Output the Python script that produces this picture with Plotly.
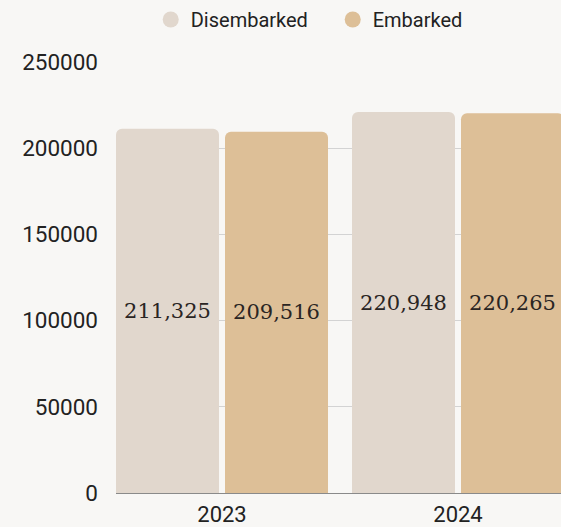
import plotly.graph_objects as go

years = ["2023", "2024"]
disembarked = [211325, 220948]
embarked = [209516, 220265]
series_names = ["Disembarked", "Embarked"]
colors = ["#E1D7CD", "#DDBF97"]
y_ticks = [0, 50000, 100000, 150000, 200000, 250000]

fig = go.Figure()
for name, vals, col in zip(series_names, [disembarked, embarked], colors):
    fig.add_trace(go.Bar(
        x=years, y=vals, name=name, marker=dict(color=col, line=dict(width=0)),
        text=[f"{v:,}" for v in vals], textposition="inside",
        insidetextanchor="middle",
        textfont=dict(family="DejaVu Serif", size=21, color="#2a2523"),
        showlegend=False, hoverinfo="skip", cliponaxis=False,
    ))
    fig.add_trace(go.Scatter(
        x=[None], y=[None], mode="markers", name=name,
        marker=dict(color=col, size=16, symbol="circle"),
        showlegend=True,
    ))

fig.update_layout(
    width=561, height=527,
    margin=dict(l=116, r=0, t=62, b=34),
    paper_bgcolor="#F8F7F5", plot_bgcolor="#F8F7F5",
    barmode="group", bargap=0.0763, bargroupgap=0.055, barcornerradius=6,
    font=dict(family="Roboto", size=22, color="#222222"),
    uniformtext=dict(mode="show", minsize=10),
    legend=dict(orientation="h", x=0.487, xanchor="center", y=1.0, yanchor="top",
                yref="container", font=dict(size=20), itemwidth=30,
                entrywidth=137, entrywidthmode="pixels",
                bgcolor="rgba(0,0,0,0)"),
    xaxis=dict(range=[-0.4492, 1.4364], showgrid=False, showline=False,
               ticks="", tickfont=dict(size=22), ticklabelstandoff=6),
    yaxis=dict(range=[0, 250000], tickvals=y_ticks, tickformat="d",
               showgrid=True, gridcolor="#D3D3D3", gridwidth=1,
               zeroline=True, zerolinecolor="#8A8A8A", zerolinewidth=1,
               ticklabelstandoff=17, tickfont=dict(size=22.5)),
)

fig.write_html("out.html", config={"displayModeBar": False},
               post_script="document.body.style.margin='0';document.body.style.overflow='hidden';")
